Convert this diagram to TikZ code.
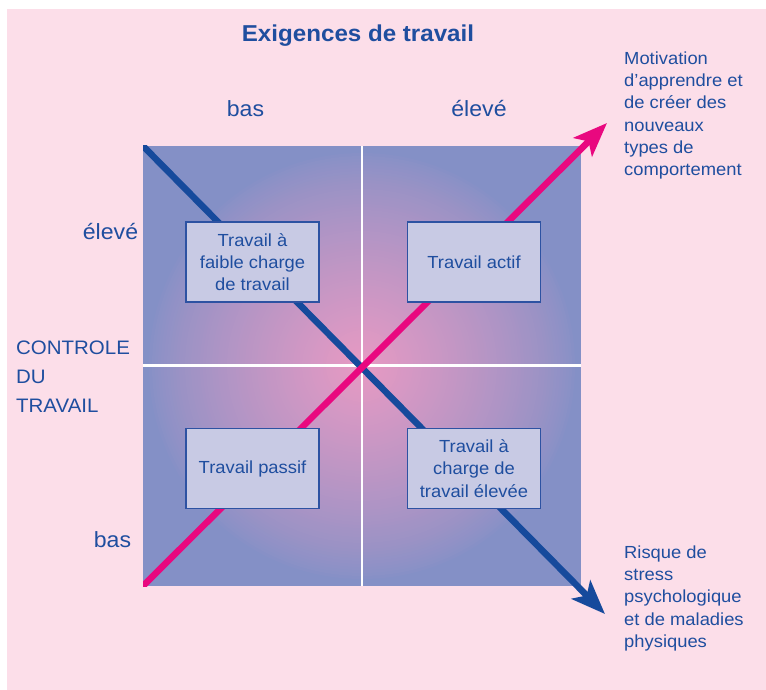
\documentclass[tikz,border=0pt]{standalone}
\usepackage{fontspec}
\setmainfont{Liberation Sans}[FakeStretch=1.05]
\usetikzlibrary{arrows.meta}
\definecolor{bgpink}{HTML}{FCDEE9}
\definecolor{qblue}{HTML}{8490C6}
\definecolor{qpink}{HTML}{E89AC3}
\definecolor{txtblue}{HTML}{1F4E9F}
\definecolor{arrblue}{HTML}{164A9C}
\definecolor{arrpink}{HTML}{E9087F}
\definecolor{boxfill}{HTML}{C8CAE4}
\definecolor{boxline}{HTML}{2D52A2}
\begin{document}
\begin{tikzpicture}[x=1pt,y=-1pt,
  lbl/.style={text=txtblue, inner sep=0pt},
  axislbl/.style={lbl, font=\fontsize{22}{26}\selectfont, anchor=base},
  sidetext/.style={lbl, font=\fontsize{17.5}{22.3}\selectfont, align=left, anchor=north west},
  quadbox/.style={draw=boxline, line width=1.3pt, fill=boxfill, minimum width=133pt,
    minimum height=80pt, text=txtblue, align=center, inner sep=0pt,
    font=\fontsize{17.5}{22.3}\selectfont},
  divider/.style={white, line width=2.5pt},
  bluearrow/.style={arrblue, line width=6.5pt, -{Stealth[length=34pt,width=26pt,inset=8pt]}},
  pinkarrow/.style={arrpink, line width=6.5pt, -{Stealth[length=34pt,width=26pt,inset=8pt]}}]
\useasboundingbox (0,0) rectangle (766,690);
\fill[white] (0,0) rectangle (766,690);
\fill[bgpink] (7,9) rectangle (766,690);
% quadrant square with gradient
\coordinate (ctr) at (362,366);
\begin{scope}
  \clip (143,146) rectangle (581,586);
  \fill[qblue] (143,146) rectangle (581,586);
  \foreach \r in {216,213,...,3} {
    \pgfmathsetmacro\f{100*(max(0.001,1-\r/216))^0.8}
    \fill[qpink!\f!qblue] (ctr) circle (\r pt);
  }
\end{scope}
% dividers
\coordinate (topmid) at (362,146);
\coordinate (botmid) at (362,586);
\coordinate (leftmid) at (143,365.5);
\coordinate (rightmid) at (581,365.5);
\draw[divider] (topmid) -- (botmid);
\draw[divider] (leftmid) -- (rightmid);
% diagonal arrows
\coordinate (bstart) at (137,139.9);
\coordinate (bend) at (605,614);
\coordinate (pstart) at (137,592);
\coordinate (pend) at (607,123);
\begin{scope}
  \clip (143,146) rectangle (766,690);
  \draw[bluearrow] (bstart) -- (bend);
\end{scope}
\begin{scope}
  \clip (143,0) rectangle (766,586);
  \draw[pinkarrow] (pstart) -- (pend);
\end{scope}
% boxes
\node[quadbox] (tl) at (252.5,262) {Travail à\\faible charge\\de travail};
\node[quadbox] (tr) at (474,262) {Travail actif};
\node[quadbox] (bl) at (252.5,468.5) {Travail passif};
\node[quadbox] (br) at (474,468.5) {Travail à\\charge de\\travail élevée};
% labels
\node[lbl, font=\bfseries\fontsize{23}{27}\selectfont, anchor=base] (title) at (358,42) {Exigences de travail};
\node[axislbl] (xlow) at (245.5,117) {bas};
\node[axislbl] (xhigh) at (479,117) {élevé};
\node[axislbl] (yhigh) at (110.5,239) {élevé};
\node[axislbl] (ylow) at (112.5,547) {bas};
\node[lbl, font=\fontsize{19.5}{29}\selectfont, align=left, anchor=north west] (ctrl) at (16,341) {CONTROLE\\DU\\TRAVAIL};
\node[sidetext] (motiv) at (624,51.5) {Motivation\\d’apprendre et\\de créer des\\nouveaux\\types de\\comportement};
\node[sidetext] (risk) at (624,545.5) {Risque de\\stress\\psychologique\\et de maladies\\physiques};
\end{tikzpicture}
\end{document}
